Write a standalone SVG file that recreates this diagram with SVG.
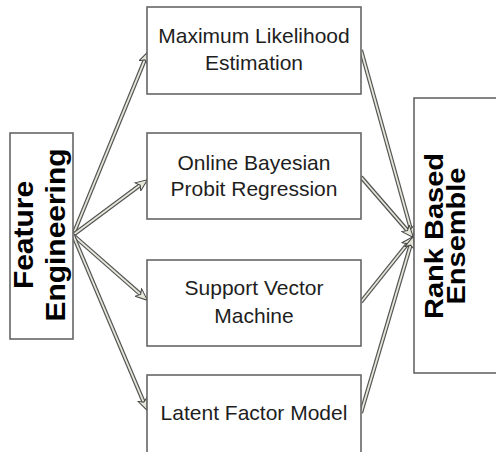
<svg xmlns="http://www.w3.org/2000/svg" width="496" height="452" viewBox="0 0 496 452">
<defs>
<style>
.box{fill:#fff;stroke:#666;stroke-width:1.6}
.t{font-family:"Liberation Sans",Arial,sans-serif;font-size:21px;fill:#1e1e1e;text-anchor:middle}
.big{font-family:"Liberation Sans",Arial,sans-serif;font-weight:bold;fill:#000;text-anchor:middle}
.out{fill:none;stroke:#555;stroke-width:4.2}
.in{fill:none;stroke:#e6e6da;stroke-width:1.8}
</style>
<marker id="ah" viewBox="0 0 13 11" refX="4" refY="5.5" markerWidth="13" markerHeight="11" markerUnits="userSpaceOnUse" orient="auto">
<path d="M0.5,0.5 L12.5,5.5 L0.5,10.5 L3.5,5.5 Z" fill="#e6e6da" stroke="#444" stroke-width="1"/>
</marker>
</defs>
<rect width="496" height="452" fill="#fff"/>
<g id="connectors">
<g><path class="out" d="M73,235 L145.0,59.4"/><path class="in" d="M73,235 L145.0,59.4" marker-end="url(#ah)"/></g>
<g><path class="out" d="M73,235 L140.6,184.8"/><path class="in" d="M73,235 L140.6,184.8" marker-end="url(#ah)"/></g>
<g><path class="out" d="M73,235 L141.0,294.7"/><path class="in" d="M73,235 L141.0,294.7" marker-end="url(#ah)"/></g>
<g><path class="out" d="M73,235 L143.9,402.6"/><path class="in" d="M73,235 L143.9,402.6" marker-end="url(#ah)"/></g>
<g><path class="out" d="M361,50 L410.9,229.3"/><path class="in" d="M361,50 L410.9,229.3" marker-end="url(#ah)"/></g>
<g><path class="out" d="M361,177 L407.8,231.0"/><path class="in" d="M361,177 L407.8,231.0" marker-end="url(#ah)"/></g>
<g><path class="out" d="M361,302 L408.0,243.2"/><path class="in" d="M361,302 L408.0,243.2" marker-end="url(#ah)"/></g>
<g><path class="out" d="M361,413 L410.7,244.7"/><path class="in" d="M361,413 L410.7,244.7" marker-end="url(#ah)"/></g>
</g>
<g id="feature-engineering">
<rect class="box" x="10" y="133" width="63" height="206"/>
<text class="big" font-size="28" transform="translate(33,235) rotate(-90) scale(1.07,1)"><tspan x="0" y="0">Feature</tspan><tspan x="0" y="32">Engineering</tspan></text>
</g>
<g id="mle">
<rect class="box" x="147" y="7" width="214" height="87"/>
<text class="t"><tspan x="254" y="43">Maximum Likelihood</tspan><tspan x="254" y="70">Estimation</tspan></text>
</g>
<g id="obpr">
<rect class="box" x="147" y="133" width="214" height="86"/>
<text class="t"><tspan x="254" y="170">Online Bayesian</tspan><tspan x="254" y="196">Probit Regression</tspan></text>
</g>
<g id="svm">
<rect class="box" x="147" y="260" width="214" height="86"/>
<text class="t"><tspan x="254" y="295">Support Vector</tspan><tspan x="254" y="323">Machine</tspan></text>
</g>
<g id="lfm">
<rect class="box" x="147" y="375" width="214" height="90"/>
<text class="t"><tspan x="254" y="420">Latent Factor Model</tspan></text>
</g>
<g id="rank-based-ensemble">
<rect class="box" x="414" y="98" width="95" height="275"/>
<text class="big" font-size="25" transform="translate(443,236) rotate(-90) scale(1.16,1)"><tspan x="0" y="0">Rank Based</tspan><tspan x="0" y="22">Ensemble</tspan></text>
</g>
</svg>
